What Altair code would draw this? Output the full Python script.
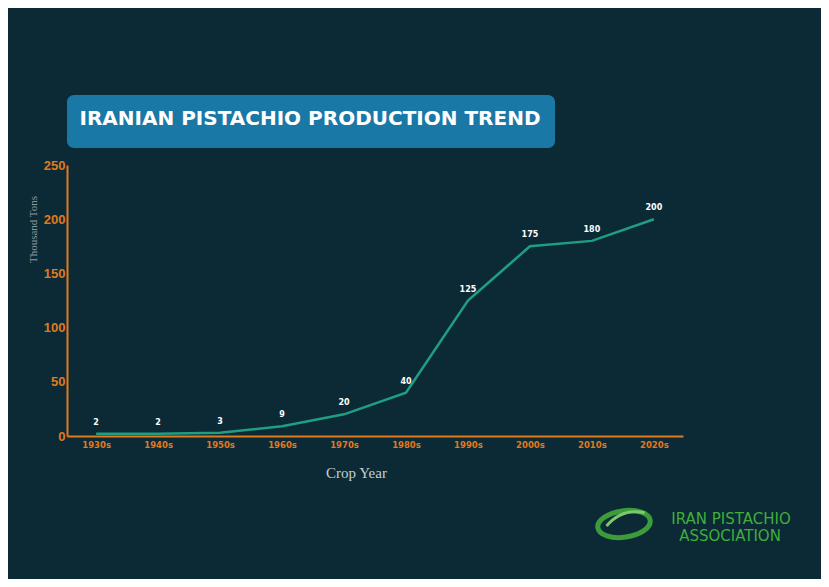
import altair as alt
import pandas as pd

decades = ["1930s", "1940s", "1950s", "1960s", "1970s", "1980s", "1990s", "2000s", "2010s", "2020s"]
production = [2, 2, 3, 9, 20, 40, 125, 175, 180, 200]

title_text = "IRANIAN PISTACHIO PRODUCTION TREND"
logo_line1 = "IRAN PISTACHIO"
logo_line2 = "ASSOCIATION"

BG = "#0b2a36"
ORANGE = "#e07a1c"
LINE = "#1f9e83"

df = pd.DataFrame({"decade": decades, "value": production})
one = pd.DataFrame({"k": [0]})

x = alt.X("decade:N", sort=decades,
          scale=alt.Scale(type="point", padding=0.47),
          axis=alt.Axis(title="Crop Year", labelAngle=0, ticks=False,
                        labelColor=ORANGE, labelFont="DejaVu Sans", labelFontWeight="bold",
                        labelFontSize=8.5, labelPadding=4, domainColor=ORANGE, domainWidth=2,
                        titleColor="#c8cdd0", titleFont="Liberation Serif", titleFontWeight="normal",
                        titleFontSize=15, titleX=289, titleY=29))
y = alt.Y("value:Q", scale=alt.Scale(domain=[0, 250]),
          axis=alt.Axis(title="Thousand Tons", values=[0, 50, 100, 150, 200, 250], ticks=False,
                        grid=False, labelColor=ORANGE, labelFont="Liberation Sans",
                        labelFontWeight="bold", labelFontSize=13, labelPadding=2,
                        domainColor=ORANGE, domainWidth=2, titleColor="#8f999e",
                        titleFont="Liberation Serif", titleFontWeight="normal", titleFontSize=11,
                        titleX=-34, titleY=64, titleAlign="center", titleBaseline="middle"))

line = alt.Chart(df).mark_line(color=LINE, strokeWidth=2.5).encode(x=x, y=y)
labels = alt.Chart(df).mark_text(color="white", font="DejaVu Sans", fontWeight="bold",
                                 fontSize=8, dy=-11).encode(x=x, y=y, text="value:Q")

box = alt.Chart(one).mark_rect(color="#1a78a6", cornerRadius=7, clip=False).encode(
    x=alt.value(0), x2=alt.value(488), y=alt.value(-70), y2=alt.value(-17))
title = alt.Chart(one).mark_text(text=title_text, color="white", font="DejaVu Sans",
                                 fontWeight="bold", fontSize=20, align="center",
                                 baseline="middle").encode(x=alt.value(243), y=alt.value(-46))

ellipse = alt.Chart(one).mark_point(
    shape="M -1 0 A 1 0.5 0 1 1 1 0 A 1 0.5 0 1 1 -1 0 Z",
    size=2800, filled=False, stroke="#3c9c3a", strokeWidth=5, angle=352, opacity=1
).encode(x=alt.value(557), y=alt.value(359))
leaf = alt.Chart(one).mark_point(
    shape="M -0.75 0.05 Q -0.1 -0.55 0.75 -0.25",
    size=2800, filled=False, stroke="#7bc96a", strokeWidth=3, angle=352, opacity=1
).encode(x=alt.value(559), y=alt.value(357))
logo1 = alt.Chart(one).mark_text(text=logo_line1, color="#3fae3a", font="DejaVu Sans",
                                 fontSize=15, align="center",
                                 baseline="middle").encode(x=alt.value(664), y=alt.value(354))
logo2 = alt.Chart(one).mark_text(text=logo_line2, color="#3fae3a", font="DejaVu Sans",
                                 fontSize=15, align="center",
                                 baseline="middle").encode(x=alt.value(663), y=alt.value(371))

chart = alt.layer(line, labels, box, title, ellipse, leaf, logo1, logo2).properties(
    width=616, height=271, background=BG,
    padding={"left": 59, "top": 157, "right": 138, "bottom": 143},
    autosize=alt.AutoSizeParams(type="none")
).configure_view(stroke=None)

chart.save("out.html", embed_options={"renderer": "svg", "actions": False})
